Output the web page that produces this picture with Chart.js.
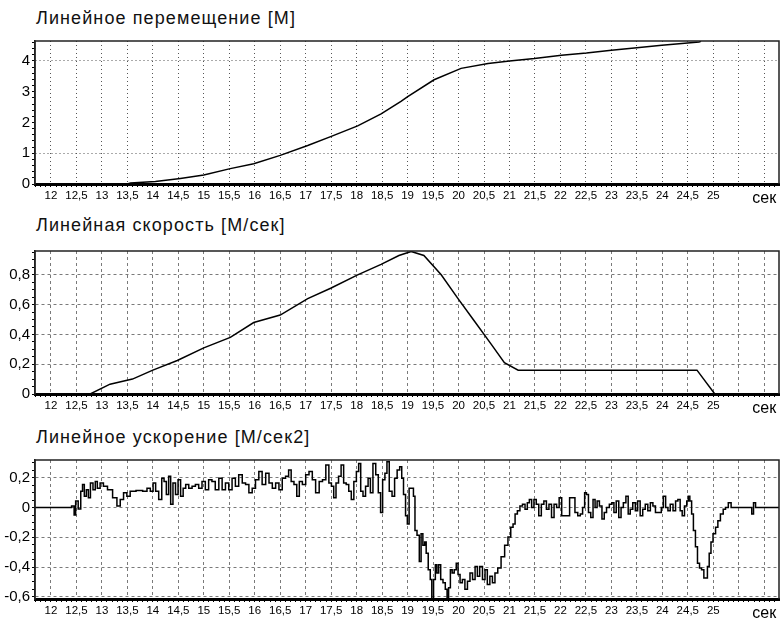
<!DOCTYPE html>
<html>
<head>
<meta charset="utf-8">
<script src="https://cdn.jsdelivr.net/npm/chart.js@4.4.0/dist/chart.umd.min.js"></script>
<style>
  body { margin:0; background:#fff; width:780px; height:626px; position:relative; overflow:hidden; font-family:"Liberation Sans", Arial, sans-serif; }
  .title { position:absolute; left:36px; font-size:18px; letter-spacing:1.1px; color:#111; white-space:nowrap; }
  .box { position:absolute; left:0; width:780px; }
</style>
</head>
<body>
<div class="title" style="top:8px">Линейное перемещение [М]</div>
<div class="box" style="top:30px;height:176px"><canvas id="c1"></canvas></div>
<div class="title" style="top:215px">Линейная скорость [М/сек]</div>
<div class="box" style="top:240px;height:178px"><canvas id="c2"></canvas></div>
<div class="title" style="top:427px">Линейное ускорение [М/сек2]</div>
<div class="box" style="top:449px;height:176px"><canvas id="c3"></canvas></div>
<script>
// ось времени
const xTicks = [12, 12.5, 13, 13.5, 14, 14.5, 15, 15.5, 16, 16.5, 17, 17.5, 18, 18.5, 19, 19.5,
  20, 20.5, 21, 21.5, 22, 22.5, 23, 23.5, 24, 24.5, 25, 25.5, 26];
const xTickLabels = ['12', '12,5', '13', '13,5', '14', '14,5', '15', '15,5', '16', '16,5', '17', '17,5',
  '18', '18,5', '19', '19,5', '20', '20,5', '21', '21,5', '22', '22,5', '23', '23,5', '24', '24,5', '25', '', 'сек'];

// перемещение
const dispTicks = [0, 1, 2, 3, 4];
const dispTickLabels = ['0', '1', '2', '3', '4'];
const dispGrid = [1, 4];
const dispT = [11.69, 13.5, 13.56, 14.05, 14.54, 15.0, 15.52, 15.98, 16.5, 17.04, 17.49, 18.02, 18.48,
  18.87, 19.01, 19.52, 20.05, 20.58, 21.0, 21.49, 22.02, 22.51, 23.0, 23.5, 23.99, 24.72, 24.76];
const dispVal = [0, 0, 0.03, 0.08, 0.18, 0.29, 0.5, 0.66, 0.93, 1.25, 1.54, 1.89, 2.28,
  2.69, 2.85, 3.39, 3.76, 3.92, 4.0, 4.08, 4.19, 4.26, 4.35, 4.43, 4.51, 4.62, 4.64];

// скорость
const velTicks = [0, 0.2, 0.4, 0.6, 0.8];
const velTickLabels = ['0', '0,2', '0,4', '0,6', '0,8'];
const velT = [11.69, 12.77, 13.16, 13.6, 14.0, 14.48, 15.0, 15.52, 15.98, 16.5, 17.04, 17.49, 18.02,
  18.48, 18.83, 19.07, 19.32, 19.66, 19.99, 20.31, 20.64, 20.9, 21.17, 24.68, 25.03, 26.3];
const velVal = [0, 0, 0.066, 0.10, 0.16, 0.225, 0.31, 0.38, 0.48, 0.53, 0.64, 0.71, 0.80,
  0.87, 0.93, 0.957, 0.93, 0.80, 0.64, 0.49, 0.335, 0.21, 0.16, 0.16, 0, 0];

// ускорение
const accTicks = [-0.6, -0.4, -0.2, 0, 0.2];
const accTickLabels = ['-0,6', '-0,4', '-0,2', '0', '0,2'];
const accT = [
  11.69, 12.37, 12.44, 12.47, 12.5, 12.57, 12.6, 12.64, 12.67, 12.72, 12.75, 12.8, 12.85, 12.89, 12.93, 13.0,
  13.06, 13.16, 13.26, 13.33, 13.39, 13.46, 13.52, 13.59, 13.75, 13.85, 13.92, 13.98, 14.03, 14.08, 14.15, 14.2,
  14.24, 14.29, 14.33, 14.37, 14.42, 14.47, 14.52, 14.57, 14.62, 14.67, 14.74, 14.8, 14.87, 14.93, 15.0, 15.06, 15.13,
  15.19, 15.26, 15.33, 15.39, 15.46, 15.52, 15.59, 15.65, 15.72, 15.79,
  15.85, 15.92, 15.98, 16.05, 16.11, 16.18, 16.25, 16.31, 16.38, 16.44,
  16.51, 16.57, 16.64, 16.69, 16.74, 16.8, 16.85, 16.9, 16.97, 17.03,
  17.1, 17.16, 17.23, 17.3, 17.36, 17.43, 17.48, 17.53, 17.57, 17.62,
  17.67, 17.72, 17.77, 17.82, 17.87, 17.92, 17.97, 18.02, 18.06, 18.1,
  18.15, 18.2, 18.25, 18.29, 18.35, 18.4, 18.45, 18.49, 18.53, 18.58, 18.61,
  18.67, 18.72, 18.77, 18.82, 18.87, 18.9, 18.94, 18.98, 19.01, 19.05,
  19.1, 19.13, 19.16, 19.21, 19.25, 19.28, 19.32, 19.35, 19.38, 19.43,
  19.46, 19.49, 19.53, 19.56, 19.59, 19.63, 19.67, 19.72, 19.76, 19.79,
  19.82, 19.86, 19.89, 19.94, 19.97, 20.01, 20.05, 20.1, 20.15, 20.2,
  20.25, 20.3, 20.35, 20.39, 20.44, 20.5, 20.54, 20.59, 20.64, 20.69,
  20.74, 20.8, 20.87, 20.94, 21.0, 21.05, 21.09, 21.13, 21.18, 21.23,
  21.28, 21.33, 21.37, 21.41, 21.46, 21.5, 21.55, 21.6, 21.65, 21.7,
  21.75, 21.8, 21.85, 21.9, 21.95, 22.0, 22.05, 22.15, 22.21, 22.26, 22.31, 22.37,
  22.41, 22.46, 22.49, 22.53, 22.57, 22.62, 22.66, 22.7, 22.74, 22.79,
  22.84, 22.88, 22.93, 22.99, 23.03, 23.07, 23.12, 23.17, 23.21, 23.26,
  23.31, 23.35, 23.39, 23.45, 23.49, 23.54, 23.59, 23.64, 23.69, 23.74,
  23.79, 23.84, 23.89, 23.96, 24.0, 24.04, 24.09, 24.13, 24.18, 24.24,
  24.28, 24.33, 24.37, 24.41, 24.46, 24.5, 24.52, 24.56, 24.59, 24.63,
  24.67, 24.71, 24.75, 24.79, 24.84, 24.87, 24.9, 24.94, 24.97, 25.02,
  25.07, 25.11, 25.17, 25.22, 25.26, 25.33, 25.37, 25.43, 25.74, 25.77,
  25.81, 25.85, 26.28, 26.33];
const accVal = [
  0, 0, 0.01, -0.05, 0.045, -0.01, 0.11, 0.155, 0.077, 0.12, 0.066, 0.165, 0.12, 0.176, 0.13, 0.165,
  0.143, 0.12, 0.066, 0.01, 0.055, 0.1, 0.077, 0.11, 0.114, 0.11, 0.13, 0.11, 0.165, 0.11, 0.055, 0.198,
  0.176, 0.088, 0.21, 0.022, 0.165, 0.088, 0.187, 0.077, 0.13, 0.155, 0.13, 0.143, 0.155, 0.13, 0.176, 0.12, 0.187,
  0.176, 0.12, 0.198, 0.12, 0.165, 0.12, 0.198, 0.143, 0.22, 0.165,
  0.155, 0.1, 0.13, 0.187, 0.242, 0.155, 0.231, 0.165, 0.13, 0.165,
  0.12, 0.198, 0.21, 0.253, 0.176, 0.155, 0.077, 0.176, 0.155, 0.22,
  0.242, 0.187, 0.1, 0.176, 0.187, 0.286, 0.165, 0.143, 0.066, 0.165,
  0.21, 0.286, 0.165, 0.155, 0.11, 0.055, 0.176, 0.242, 0.297, 0.11,
  0.077, 0.143, 0.198, 0.1, 0.297, 0.22, 0.1, -0.033, 0.187, 0.231, 0.308,
  0.11, 0.077, 0.198, 0.253, 0.275, 0.198, 0.088, -0.055, -0.11, 0.13,
  0.13, 0.077, -0.154, -0.187, -0.363, -0.176, -0.253, -0.231, -0.308, -0.418,
  -0.484, -0.64, -0.484, -0.385, -0.44, -0.385, -0.484, -0.506, -0.55, -0.64,
  -0.539, -0.418, -0.44, -0.418, -0.374, -0.451, -0.506, -0.484, -0.55, -0.495,
  -0.44, -0.484, -0.396, -0.462, -0.396, -0.484, -0.418, -0.517, -0.462, -0.506,
  -0.44, -0.407, -0.33, -0.253, -0.198, -0.132, -0.11, -0.044, -0.022, 0.011,
  0.022, -0.011, 0.033, 0.055, 0, 0.055, 0.022, -0.055, 0.022, 0.044,
  -0.011, 0.022, -0.066, 0.022, 0, 0.066, -0.055, -0.055, 0.066, 0.066, -0.033, -0.055,
  -0.044, 0, 0.1, 0.088, -0.033, -0.066, 0.055, 0, 0.044, 0.011,
  -0.077, -0.033, 0, 0.022, 0.033, -0.033, 0.044, -0.066, 0, 0.033,
  0.077, -0.044, -0.011, 0.033, -0.022, 0.044, -0.055, -0.011, 0.022, -0.022,
  0.033, 0.011, -0.033, -0.033, 0, 0.077, 0, -0.022, 0.022, -0.022,
  0.044, 0.055, -0.022, -0.055, 0.011, 0.044, 0.077, 0.044, -0.044, -0.154,
  -0.264, -0.374, -0.407, -0.418, -0.473, -0.473, -0.396, -0.308, -0.231, -0.176,
  -0.132, -0.088, -0.044, -0.011, 0, 0.033, 0, 0, 0, -0.044,
  0.033, 0, 0, 0.022];

const FONT = '"Liberation Sans", Arial, sans-serif';

function near(list, v) {
  return list.findIndex(m => Math.abs(m - v) < 1e-6);
}

// основные деления + мелкие засечки
function setTicks(major, minorStep) {
  return function(scale) {
    const list = [];
    const start = Math.ceil(scale.min / minorStep - 1e-6);
    const end = Math.floor(scale.max / minorStep + 1e-6);
    for (let i = start; i <= end; i++) list.push(+(i * minorStep).toFixed(4));
    major.forEach(v => { if (near(list, v) < 0) list.push(v); });
    list.sort((a, b) => a - b);
    scale.ticks = list.map(v => ({ value: v }));
  };
}

const frame = {
  id: 'frame',
  afterDraw(chart) {
    const a = chart.chartArea;
    const ctx = chart.ctx;
    ctx.save();
    ctx.strokeStyle = '#222';
    ctx.lineWidth = 1.5;
    ctx.beginPath();
    ctx.moveTo(a.left, a.bottom);
    ctx.lineTo(a.left, a.top);
    ctx.lineTo(a.right, a.top);
    ctx.lineTo(a.right, a.bottom);
    ctx.stroke();
    ctx.restore();
  }
};

function makeChart(id, t, v, yMin, yMax, yTicks, yLabels, yMinor, yGrid, dash, gridColor, xHeight, stepped) {
  const points = t.map((x, i) => ({ x: x, y: v[i] }));
  return new Chart(document.getElementById(id), {
    type: 'line',
    data: {
      datasets: [{
        data: points,
        borderColor: '#000',
        borderWidth: 1.5,
        pointRadius: 0,
        tension: 0,
        stepped: stepped,
        fill: false
      }]
    },
    options: {
      responsive: true,
      maintainAspectRatio: false,
      animation: false,
      layout: { padding: { top: 9, right: 1, left: 0, bottom: 0 } },
      plugins: { legend: { display: false }, tooltip: { enabled: false } },
      scales: {
        x: {
          type: 'linear',
          min: 11.687,
          max: 26.29,
          afterBuildTicks: setTicks(xTicks, 0.1),
          afterFit: s => { s.height = xHeight; },
          ticks: {
            autoSkip: false,
            maxRotation: 0,
            padding: 2,
            color: '#000',
            font: ctx => (ctx.tick && Math.abs(ctx.tick.value - 26) < 1e-6)
              ? { family: FONT, size: 16 } : { family: FONT, size: 11.5 },
            callback: value => {
              const i = near(xTicks, value);
              return i < 0 ? '' : xTickLabels[i];
            }
          },
          grid: {
            color: ctx => (ctx.tick && near(xTicks, ctx.tick.value) >= 0) ? gridColor : 'rgba(0,0,0,0)',
            tickColor: '#000',
            tickLength: 3,
            lineWidth: 1
          },
          border: { display: true, color: '#000', width: 3, dash: dash }
        },
        y: {
          min: yMin,
          max: yMax,
          afterBuildTicks: setTicks(yTicks, yMinor),
          afterFit: s => { s.width = 35; },
          ticks: {
            autoSkip: false,
            padding: 2,
            color: '#000',
            font: { family: FONT, size: 15 },
            callback: value => {
              const i = near(yTicks, value);
              return i < 0 ? '' : yLabels[i];
            }
          },
          grid: {
            color: ctx => (ctx.tick && near(yGrid, ctx.tick.value) >= 0) ? gridColor : 'rgba(0,0,0,0)',
            tickColor: '#000',
            tickLength: 3,
            lineWidth: 1
          },
          border: { display: true, color: '#222', width: 1.5, dash: dash }
        }
      }
    },
    plugins: [frame]
  });
}

makeChart('c1', dispT, dispVal, 0, 4.65, dispTicks, dispTickLabels, 0.2, dispGrid, [1, 3], '#555', 22, false);
makeChart('c2', velT, velVal, 0, 0.96, velTicks, velTickLabels, 0.05, velTicks, [3, 3], '#7a7a7a', 24, false);
makeChart('c3', accT, accVal, -0.615, 0.32, accTicks, accTickLabels, 0.05, accTicks, [3, 3], '#7a7a7a', 26, 'middle');
</script>
</body>
</html>
